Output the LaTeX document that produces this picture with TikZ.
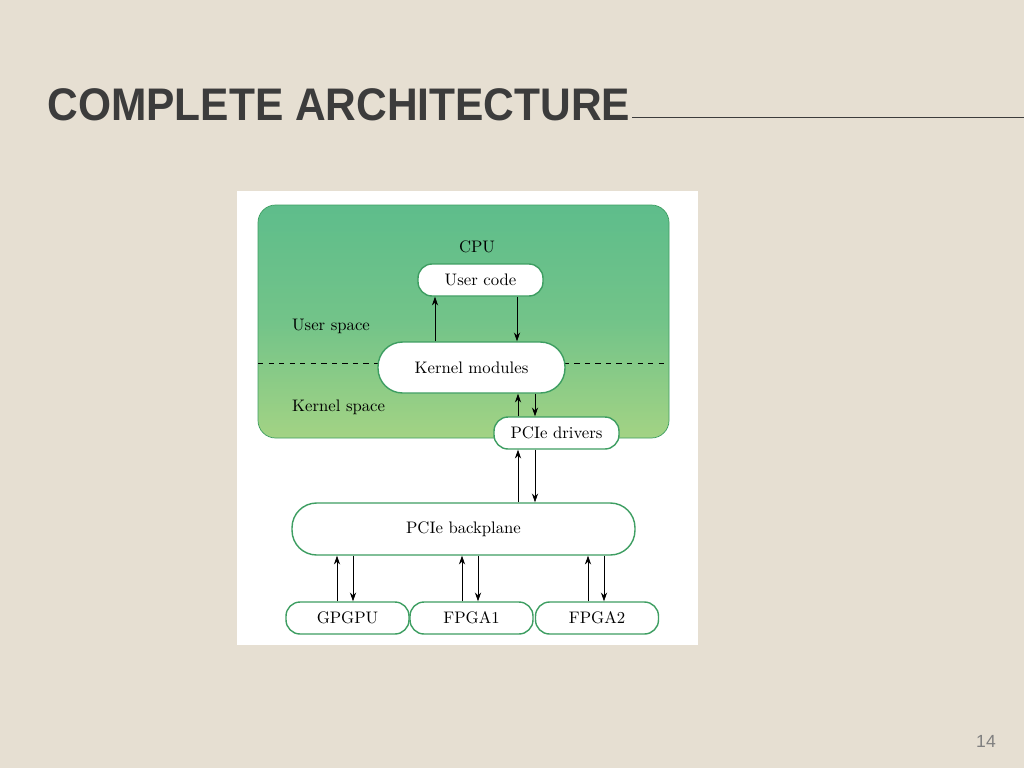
\documentclass[tikz,border=0pt]{standalone}
\usepackage{fontspec}
\setsansfont{Liberation Sans}
\usetikzlibrary{arrows.meta}
\definecolor{slidebg}{HTML}{E6DFD2}
\definecolor{titlegray}{HTML}{3C3C3C}
\definecolor{boxgreen}{HTML}{3E9E62}
\definecolor{cputop}{HTML}{5EBD8B}
\definecolor{cpubot}{HTML}{A3D384}
\begin{document}
\begin{tikzpicture}[x=0.02cm,y=-0.02cm,>={Stealth[length=5pt,width=3.5pt]},
                    part/.style={draw=boxgreen,fill=white,rounded corners=8pt,thick,
                                 font=\fontsize{9.5}{11}\selectfont},
                    label/.style={font=\fontsize{9.5}{11}\selectfont,anchor=west}]
  \useasboundingbox (0,0) rectangle (1024,768);
  \fill[slidebg] (0,0) rectangle (1024,768);
  \node[anchor=base west,inner sep=0pt,text=titlegray,font=\sffamily\bfseries\fontsize{26}{28}\selectfont]
    (title) at (47,120) {\scalebox{0.93}[1]{COMPLETE ARCHITECTURE}};
  \draw[titlegray] (632,117) -- (1024,117);
  \node[text=gray,font=\sffamily\fontsize{10}{12}\selectfont] (page) at (986,741) {14};
  % figure panel
  \fill[white] (237,191) rectangle (698,645);
  \shade[rounded corners=10pt,top color=cputop,bottom color=cpubot,middle color=cputop!70!cpubot,draw=boxgreen]
    (258,205) rectangle (669,438);
  \draw[dashed] (258,363) -- (669,363);
  \node[font=\fontsize{9.5}{11}\selectfont] (cpu) at (477,247) {CPU};
  \node[label] (us) at (286,326) {User space};
  \node[label] (ks) at (286,407) {Kernel space};
  % blocks
  \node[part,minimum width=2.5cm,minimum height=0.64cm] (uc) at (480.5,280) {User code};
  \node[part,minimum width=3.74cm,minimum height=1.02cm,rounded corners=14pt] (km) at (471.5,367.5) {Kernel modules};
  \node[part,minimum width=2.5cm,minimum height=0.64cm] (pd) at (556.5,433) {PCIe drivers};
  \node[part,minimum width=6.86cm,minimum height=1.04cm,rounded corners=14pt] (bp) at (463.5,529) {PCIe backplane};
  \node[part,minimum width=2.46cm,minimum height=0.64cm] (gp) at (347.5,618) {GPGPU};
  \node[part,minimum width=2.46cm,minimum height=0.64cm] (f1) at (471.5,618) {FPGA1};
  \node[part,minimum width=2.46cm,minimum height=0.64cm] (f2) at (597,618) {FPGA2};
  % links
  \draw[->] (km.north -| 435,0) -- (uc.south -| 435,0);
  \draw[->] (uc.south -| 517,0) -- (km.north -| 517,0);
  \draw[->] (pd.north -| 518,0) -- (km.south -| 518,0);
  \draw[->] (km.south -| 535,0) -- (pd.north -| 535,0);
  \draw[->] (bp.north -| 518,0) -- (pd.south -| 518,0);
  \draw[->] (pd.south -| 535,0) -- (bp.north -| 535,0);
  \draw[->] (gp.north -| 337,0) -- (bp.south -| 337,0);
  \draw[->] (bp.south -| 353,0) -- (gp.north -| 353,0);
  \draw[->] (f1.north -| 462,0) -- (bp.south -| 462,0);
  \draw[->] (bp.south -| 478,0) -- (f1.north -| 478,0);
  \draw[->] (f2.north -| 588,0) -- (bp.south -| 588,0);
  \draw[->] (bp.south -| 604,0) -- (f2.north -| 604,0);
\end{tikzpicture}
\end{document}
